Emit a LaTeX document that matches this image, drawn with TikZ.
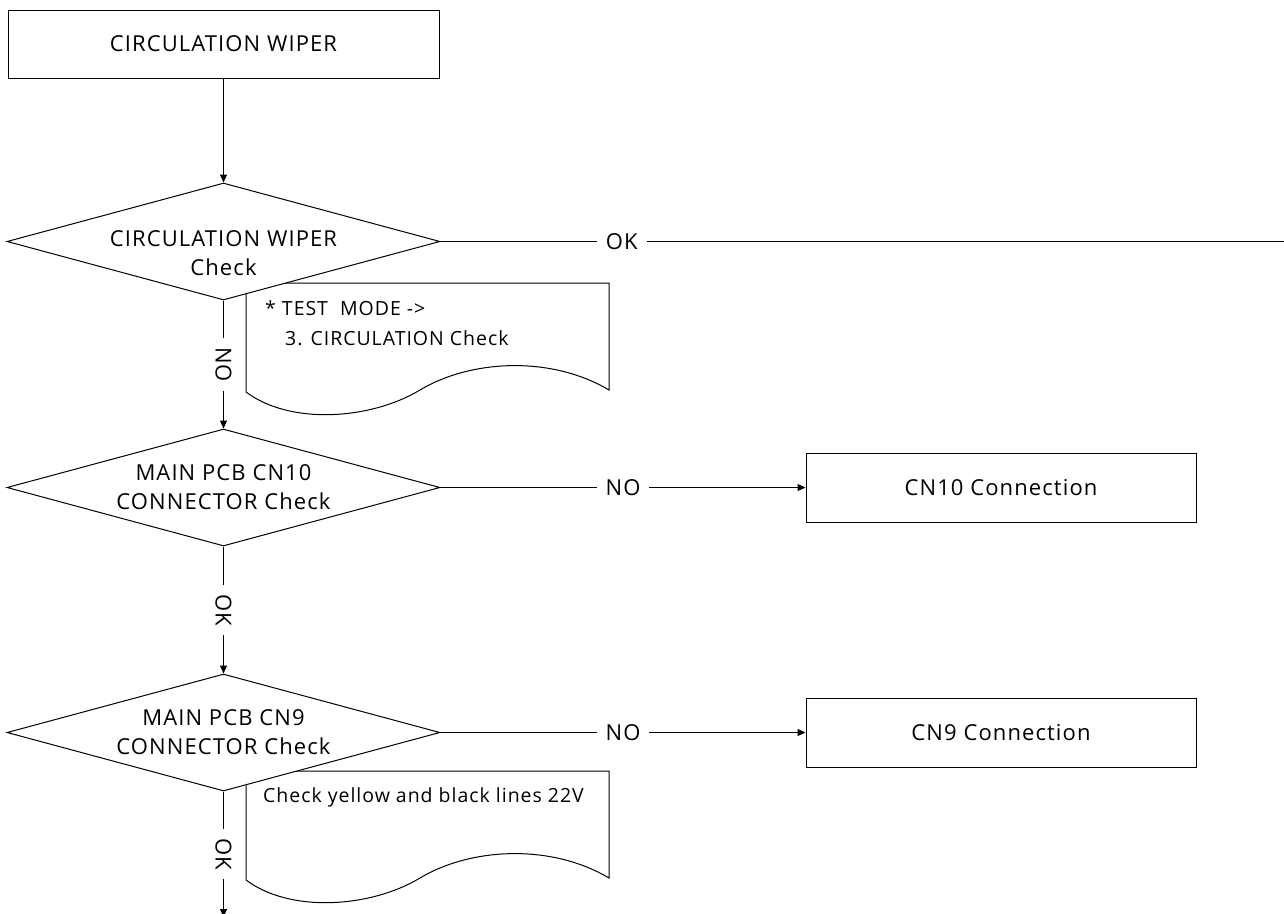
\documentclass[tikz,border=0pt]{standalone}
\usepackage{fontspec}
\setmainfont[LetterSpace=5]{Open Sans}
\usetikzlibrary{arrows.meta, positioning, shapes.geometric}

\begin{document}
\begin{tikzpicture}[x=1pt, y=-1pt,
    font=\fontsize{22}{29}\selectfont,
    stepbox/.style={draw, line width=1pt, minimum width=431pt, minimum height=68pt,
                    align=center, fill=white},
    decision/.style={draw, diamond, aspect=3.7, inner xsep=-40pt, inner ysep=-20pt,
                     minimum width=433pt, minimum height=117pt, align=center,
                     line width=1pt, fill=white},
    arrow/.style={-{Triangle[length=8pt, width=7pt]}, line width=1pt},
    plain/.style={line width=1pt},
    tag/.style={fill=white, inner sep=9pt},
    memo/.style={align=left, anchor=base west, inner sep=0pt,
                 font=\fontsize{19.5}{30}\selectfont}
  ]
    \useasboundingbox (0,0) rectangle (1284,913);

    % memo sheets (drawn first, the diamonds cover their corners)
    \draw[plain] (246,283) -- (609,283) -- (609,390)
      .. controls (550,355) and (470,360) .. (420,390)
      .. controls (370,420) and (290,425) .. (246,392) -- cycle;
    \draw[plain] (246,771) -- (609,771) -- (609,878)
      .. controls (550,843) and (470,848) .. (420,878)
      .. controls (370,908) and (290,913) .. (246,880) -- cycle;

    \node[stepbox] (wiper) at (223.5,44) {CIRCULATION WIPER};
    \node[decision] (chkwiper) at (223.5,241.5)
      {\rule{0pt}{40pt}CIRCULATION WIPER\\Check};
    \node[decision] (chkcn10) at (223.5,487.5) {MAIN PCB CN10\\CONNECTOR Check};
    \node[decision] (chkcn9) at (223.5,732.5) {MAIN PCB CN9\\CONNECTOR Check};
    \node[stepbox, minimum width=390pt, minimum height=69pt] (cn10) at (1001,487.5)
      {CN10 Connection};
    \node[stepbox, minimum width=390pt, minimum height=69pt] (cn9) at (1001,732.5)
      {CN9 Connection};
    \node[memo] (memomode) at (265,345)
      {* TEST\ \ MODE ->\\\hspace*{20pt}3. CIRCULATION Check};
    \node[memo] (memoline) at (263,802) {Check yellow and black lines 22V};
    \coordinate (okend) at (1284,241.5);
    \coordinate (bottom) at (223.5,917);

    \draw[arrow] (wiper) -- (chkwiper);
    \draw[plain] (chkwiper.east) -- node[tag, pos=0.215] {OK} (okend);
    \draw[arrow] (chkwiper) -- node[tag, rotate=-90] {NO} (chkcn10);
    \draw[arrow] (chkcn10) -- node[tag] {NO} (cn10);
    \draw[arrow] (chkcn10) -- node[tag, rotate=-90] {OK} (chkcn9);
    \draw[arrow] (chkcn9) -- node[tag] {NO} (cn9);
    \draw[arrow] (chkcn9) -- node[tag, rotate=-90] {OK} (bottom);
  \end{tikzpicture}
\end{document}
